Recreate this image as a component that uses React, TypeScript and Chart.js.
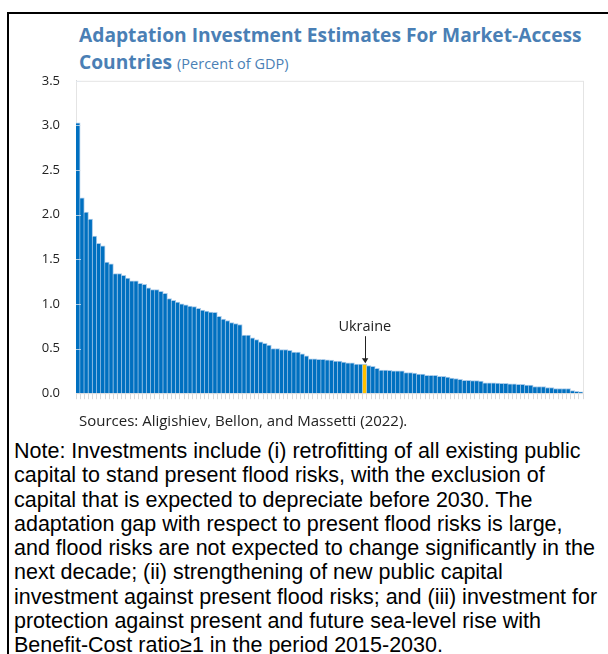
import { useEffect, useRef } from "react";
import { Chart, registerables } from "chart.js";
Chart.register(...registerables);

const values: number[] = [
  3.03, 2.19, 2.03, 1.95, 1.76, 1.68, 1.65, 1.47, 1.45, 1.34,
  1.34, 1.32, 1.29, 1.26, 1.26, 1.23, 1.22, 1.18, 1.16, 1.16,
  1.14, 1.12, 1.06, 1.04, 1.02, 1.0, 0.99, 0.975, 0.97, 0.95,
  0.93, 0.92, 0.91, 0.905, 0.86, 0.83, 0.815, 0.79, 0.78, 0.77,
  0.65, 0.65, 0.62, 0.6, 0.575, 0.56, 0.54, 0.5, 0.5, 0.49,
  0.49, 0.48, 0.46, 0.46, 0.44, 0.42, 0.385, 0.385, 0.38, 0.38,
  0.375, 0.37, 0.36, 0.36, 0.35, 0.34, 0.34, 0.325, 0.325, 0.325,
  0.31, 0.3, 0.28, 0.26, 0.26, 0.255, 0.25, 0.25, 0.25, 0.23,
  0.23, 0.225, 0.215, 0.213, 0.2, 0.2, 0.2, 0.19, 0.19, 0.18,
  0.17, 0.165, 0.155, 0.145, 0.145, 0.14, 0.14, 0.135, 0.115, 0.115,
  0.115, 0.112, 0.11, 0.11, 0.105, 0.105, 0.1, 0.1, 0.09, 0.09,
  0.075, 0.075, 0.075, 0.064, 0.064, 0.053, 0.053, 0.053, 0.053, 0.03,
  0.022, 0.015,
];
const categories: string[] = values.map((_, i) => `Country ${i + 1}`);
const highlightIndex = 69;
const highlightLabel = "Ukraine";
const yMin = 0;
const yMax = 3.5;
const yStep = 0.5;

const titleMain1 = "Adaptation Investment Estimates For Market-Access";
const titleMain2 = "Countries";
const titleSub = "(Percent of GDP)";
const sourceText = "Sources: Aligishiev, Bellon, and Massetti (2022).";
const noteLines = [
  "Note: Investments include (i) retrofitting of all existing public",
  "capital to stand present flood risks, with the exclusion of",
  "capital that is expected to depreciate before 2030. The",
  "adaptation gap with respect to present flood risks is large,",
  "and flood risks are not expected to change significantly in the",
  "next decade; (ii) strengthening of new public capital",
  "investment against present flood risks; and (iii) investment for",
  "protection against present and future sea-level rise with",
  "Benefit-Cost ratio\u22651 in the period 2015-2030.",
];

const BLUE = "#0070C0";
const GOLD = "#FFC000";
const TITLE_COLOR = "#4A7FB5";

const framePlugin = {
  id: "frame",
  beforeDatasetsDraw(chart: any) {
    const { ctx, chartArea } = chart;
    ctx.save();
    ctx.strokeStyle = "#e4e4e4";
    ctx.lineWidth = 1;
    ctx.strokeRect(chartArea.left + 0.5, chartArea.top + 0.5, chartArea.right - chartArea.left, chartArea.bottom - chartArea.top);
    ctx.restore();
  },
  afterDatasetsDraw(chart: any) {
    const { ctx, chartArea } = chart;
    const ys = chart.scales.y;
    ctx.save();
    ctx.strokeStyle = "rgba(225,232,240,0.75)";
    ctx.lineWidth = 1;
    ys.ticks.forEach((t: any) => {
      if (t.value <= yMin) return;
      const y = Math.round(ys.getPixelForValue(t.value)) + 0.5;
      ctx.beginPath();
      ctx.moveTo(chartArea.left, y);
      ctx.lineTo(chartArea.left + 5, y);
      ctx.stroke();
    });
    const bar: any = chart.getDatasetMeta(0).data[highlightIndex];
    if (bar) {
      const x = bar.x;
      const top = bar.y;
      ctx.strokeStyle = "#222";
      ctx.fillStyle = "#222";
      ctx.lineWidth = 1;
      ctx.beginPath();
      ctx.moveTo(Math.round(x) + 0.5, top - 28);
      ctx.lineTo(Math.round(x) + 0.5, top - 4);
      ctx.stroke();
      ctx.beginPath();
      ctx.moveTo(x - 3, top - 6);
      ctx.lineTo(x + 3.5, top - 6);
      ctx.lineTo(x + 0.5, top - 1);
      ctx.closePath();
      ctx.fill();
      ctx.font = "14.5px 'Open Sans'";
      ctx.textAlign = "center";
      ctx.textBaseline = "middle";
      ctx.fillText(highlightLabel, x, top - 37);
    }
    ctx.restore();
  },
};

export default function App() {
  const ref = useRef<HTMLCanvasElement>(null);
  useEffect(() => {
    document.body.style.margin = "0";
    document.body.style.overflow = "hidden";
    const chart = new Chart(ref.current as HTMLCanvasElement, {
      type: "bar",
      data: {
        labels: categories,
        datasets: [
          {
            data: values,
            backgroundColor: values.map((_, i) => (i === highlightIndex ? GOLD : BLUE)),
            borderColor: "#a9cbea",
            borderWidth: { top: 1, right: 1, left: 0, bottom: 0 },
            borderSkipped: "start",
            categoryPercentage: 1,
            barPercentage: 1,
          } as any,
        ],
      },
      options: {
        animation: false,
        responsive: false,
        maintainAspectRatio: false,
        layout: { padding: { top: 10, right: 25, left: 0, bottom: 0 } },
        plugins: {
          legend: { display: false },
          tooltip: { enabled: false },
          title: { display: false },
        },
        scales: {
          x: {
            grid: {
              display: true,
              offset: true,
              drawOnChartArea: false,
              drawTicks: true,
              tickLength: 6,
              color: "#d9d9d9",
            },
            ticks: { display: false },
            border: { display: true, color: "#d9d9d9" },
            afterFit: (s: any) => {
              s.height = 10;
            },
          } as any,
          y: {
            min: yMin,
            max: yMax,
            ticks: {
              stepSize: yStep,
              callback: (v: any) => Number(v).toFixed(1),
              padding: 16,
              font: { family: "'Open Sans'", size: 13 },
              color: "#222",
            },
            grid: { display: false, drawTicks: false },
            border: { display: true, color: "#d9d9d9" },
            afterFit: (s: any) => {
              s.width = 76;
            },
          } as any,
        },
      },
      plugins: [framePlugin],
    });
    return () => chart.destroy();
  }, []);

  return (
    <div>
      <div
        style={{
          position: "absolute",
          left: 7,
          top: 12,
          width: 620,
          height: 660,
          borderLeft: "2px solid #000",
          borderTop: "2px solid #000",
        }}
      />
      <div
        style={{
          position: "absolute",
          left: 79,
          top: 21,
          fontFamily: "'Open Sans'",
          fontWeight: 700,
          fontSize: 19.2,
          lineHeight: "27px",
          color: TITLE_COLOR,
          whiteSpace: "nowrap",
        }}
      >
        <div>{titleMain1}</div>
        <div>
          {titleMain2}{" "}
          <span style={{ fontWeight: 400, fontSize: 14.5 }}>{titleSub}</span>
        </div>
      </div>
      <canvas
        ref={ref}
        width={608}
        height={360}
        style={{ position: "absolute", left: 0, top: 57, width: 608, height: 360 }}
      />
      <div
        style={{
          position: "absolute",
          left: 79,
          top: 410,
          fontFamily: "'Open Sans'",
          fontSize: 15,
          lineHeight: "20px",
          color: "#222",
          whiteSpace: "nowrap",
        }}
      >
        {sourceText}
      </div>
      <div
        style={{
          position: "absolute",
          left: 14,
          top: 439,
          fontFamily: "'Liberation Sans', Arial, sans-serif",
          fontSize: 21.5,
          lineHeight: "24.3px",
          color: "#000",
          whiteSpace: "nowrap",
        }}
      >
        {noteLines.map((l, i) => (
          <div key={i}>{l}</div>
        ))}
      </div>
    </div>
  );
}
